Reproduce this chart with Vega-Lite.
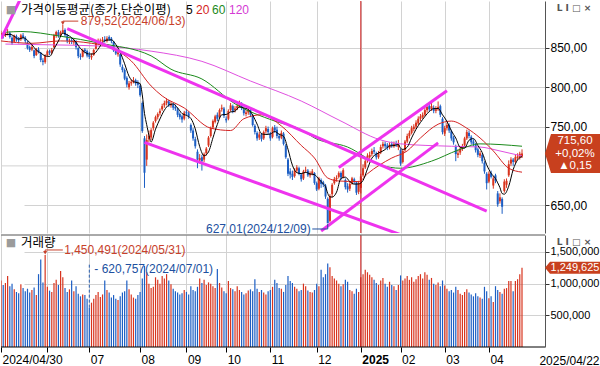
{
"$schema": "https://vega.github.io/schema/vega-lite/v6.json",
"background": "white",
"padding": 0,
"autosize": {"type": "pad"},
"bounds": "flush",
"spacing": 2,
"config": {"view": {"stroke": null}, "font": "Liberation Sans", "text": {"font": "Liberation Sans"}},
"datasets": {
"px": [
{"d":"2024-04-30","o":867,"h":872,"l":864,"c":868.9,"v":1050000},
{"d":"2024-05-02","o":868,"h":870,"l":862,"c":865.2,"v":980000},
{"d":"2024-05-03","o":866,"h":871,"l":864,"c":868.9,"v":1010000},
{"d":"2024-05-07","o":870,"h":874,"l":866,"c":870.2,"v":1120000},
{"d":"2024-05-08","o":869,"h":871,"l":862,"c":864,"v":960000},
{"d":"2024-05-09","o":863,"h":865,"l":854,"c":856.3,"v":1000000},
{"d":"2024-05-10","o":858,"h":867,"l":857,"c":865.6,"v":910000},
{"d":"2024-05-13","o":865,"h":867,"l":858,"c":861.1,"v":870000},
{"d":"2024-05-14","o":862,"h":864,"l":856,"c":859.7,"v":850000},
{"d":"2024-05-16","o":861,"h":868,"l":859,"c":866.1,"v":990000},
{"d":"2024-05-17","o":866,"h":869,"l":861,"c":863.7,"v":930000},
{"d":"2024-05-20","o":863,"h":865,"l":856,"c":858.8,"v":880000},
{"d":"2024-05-21","o":857,"h":859,"l":848,"c":850,"v":920000},
{"d":"2024-05-22","o":851,"h":853,"l":845,"c":847.5,"v":860000},
{"d":"2024-05-23","o":848,"h":854,"l":846,"c":851.2,"v":900000},
{"d":"2024-05-24","o":847,"h":848,"l":837,"c":839.7,"v":940000},
{"d":"2024-05-27","o":841,"h":850,"l":840,"c":848,"v":820000},
{"d":"2024-05-28","o":848,"h":851,"l":843,"c":845.2,"v":1150000},
{"d":"2024-05-29","o":844,"h":845,"l":832,"c":834.6,"v":1380000},
{"d":"2024-05-30","o":834,"h":837,"l":828,"c":832.3,"v":1020000},
{"d":"2024-05-31","o":832,"h":842,"l":830,"c":840,"v":1450491},
{"d":"2024-06-03","o":841,"h":848,"l":839,"c":845.8,"v":950000},
{"d":"2024-06-04","o":846,"h":848,"l":841,"c":843.9,"v":890000},
{"d":"2024-06-05","o":844,"h":850,"l":842,"c":847.5,"v":870000},
{"d":"2024-06-07","o":851,"h":868,"l":850,"c":866.3,"v":1010000},
{"d":"2024-06-10","o":866,"h":872,"l":863,"c":870.4,"v":1060000},
{"d":"2024-06-11","o":870,"h":873,"l":863,"c":865.8,"v":980000},
{"d":"2024-06-12","o":866,"h":872,"l":864,"c":870,"v":1200000},
{"d":"2024-06-13","o":870,"h":879.52,"l":868,"c":872.6,"v":1100000},
{"d":"2024-06-14","o":873,"h":875,"l":864,"c":866.4,"v":930000},
{"d":"2024-06-17","o":866,"h":868,"l":856,"c":859.1,"v":870000},
{"d":"2024-06-18","o":858,"h":862,"l":855,"c":859.2,"v":910000},
{"d":"2024-06-19","o":860,"h":863,"l":855,"c":858.1,"v":1050000},
{"d":"2024-06-20","o":857,"h":862,"l":854,"c":859.1,"v":880000},
{"d":"2024-06-21","o":858,"h":860,"l":848,"c":851,"v":960000},
{"d":"2024-06-24","o":850,"h":851,"l":837,"c":839.7,"v":840000},
{"d":"2024-06-25","o":840,"h":843,"l":835,"c":838.7,"v":800000},
{"d":"2024-06-26","o":839,"h":849,"l":838,"c":847.5,"v":830000},
{"d":"2024-06-27","o":848,"h":850,"l":843,"c":846.1,"v":820000},
{"d":"2024-06-28","o":846,"h":848,"l":838,"c":840.4,"v":760000},
{"d":"2024-07-01","o":841,"h":845,"l":836,"c":838.7,"v":620757},
{"d":"2024-07-02","o":838,"h":843,"l":835,"c":840,"v":700000},
{"d":"2024-07-03","o":841,"h":849,"l":840,"c":847.5,"v":760000},
{"d":"2024-07-04","o":849,"h":859,"l":848,"c":857.5,"v":820000},
{"d":"2024-07-05","o":858,"h":862,"l":855,"c":859,"v":870000},
{"d":"2024-07-08","o":858,"h":862,"l":855,"c":859.5,"v":790000},
{"d":"2024-07-09","o":859,"h":864,"l":857,"c":860.6,"v":830000},
{"d":"2024-07-10","o":861,"h":865,"l":857,"c":859,"v":1050000},
{"d":"2024-07-11","o":859,"h":865,"l":857,"c":862.2,"v":900000},
{"d":"2024-07-12","o":864,"h":866,"l":859,"c":861.3,"v":860000},
{"d":"2024-07-15","o":862,"h":864,"l":856,"c":859,"v":780000},
{"d":"2024-07-16","o":858,"h":859,"l":845,"c":847,"v":820000},
{"d":"2024-07-17","o":846,"h":849,"l":841,"c":843,"v":760000},
{"d":"2024-07-18","o":842,"h":847,"l":839,"c":844.3,"v":740000},
{"d":"2024-07-19","o":842,"h":843,"l":826,"c":829,"v":800000},
{"d":"2024-07-22","o":826,"h":829,"l":819,"c":822,"v":860000},
{"d":"2024-07-23","o":822,"h":824,"l":809,"c":811,"v":880000},
{"d":"2024-07-24","o":812,"h":814,"l":800,"c":803.5,"v":1050000},
{"d":"2024-07-25","o":800,"h":808,"l":797,"c":805,"v":910000},
{"d":"2024-07-26","o":805,"h":810,"l":802,"c":807,"v":830000},
{"d":"2024-07-29","o":807,"h":813,"l":805,"c":809,"v":780000},
{"d":"2024-07-30","o":809,"h":811,"l":802,"c":805,"v":760000},
{"d":"2024-07-31","o":806,"h":809,"l":799,"c":803.2,"v":820000},
{"d":"2024-08-01","o":802,"h":804,"l":788,"c":790,"v":870000},
{"d":"2024-08-02","o":780,"h":782,"l":742,"c":744.3,"v":1080000},
{"d":"2024-08-05","o":735,"h":738,"l":672,"c":691.3,"v":1280000},
{"d":"2024-08-06","o":708,"h":740,"l":700,"c":733,"v":1180000},
{"d":"2024-08-07","o":734,"h":745,"l":730,"c":738,"v":1000000},
{"d":"2024-08-08","o":736,"h":748,"l":733,"c":745.5,"v":930000},
{"d":"2024-08-09","o":748,"h":757,"l":745,"c":755,"v":950000},
{"d":"2024-08-12","o":757,"h":764,"l":755,"c":762,"v":1100000},
{"d":"2024-08-13","o":762,"h":768,"l":759,"c":766,"v":1060000},
{"d":"2024-08-14","o":767,"h":773,"l":764,"c":770,"v":1000000},
{"d":"2024-08-16","o":772,"h":779,"l":770,"c":776,"v":1120000},
{"d":"2024-08-19","o":777,"h":783,"l":774,"c":780,"v":1080000},
{"d":"2024-08-20","o":780,"h":786,"l":777,"c":783,"v":1150000},
{"d":"2024-08-21","o":782,"h":784,"l":775,"c":778,"v":1050000},
{"d":"2024-08-22","o":777,"h":782,"l":774,"c":779,"v":990000},
{"d":"2024-08-23","o":778,"h":780,"l":771,"c":774,"v":920000},
{"d":"2024-08-26","o":775,"h":778,"l":770,"c":773,"v":880000},
{"d":"2024-08-27","o":772,"h":774,"l":762,"c":765,"v":860000},
{"d":"2024-08-28","o":766,"h":768,"l":759,"c":762,"v":830000},
{"d":"2024-08-29","o":763,"h":765,"l":755,"c":759,"v":850000},
{"d":"2024-08-30","o":760,"h":770,"l":758,"c":767.7,"v":900000},
{"d":"2024-09-02","o":769,"h":772,"l":764,"c":767.5,"v":870000},
{"d":"2024-09-03","o":767,"h":769,"l":760,"c":763,"v":830000},
{"d":"2024-09-04","o":752,"h":754,"l":742,"c":745,"v":960000},
{"d":"2024-09-05","o":745,"h":748,"l":732,"c":735,"v":900000},
{"d":"2024-09-06","o":734,"h":737,"l":722,"c":725,"v":880000},
{"d":"2024-09-09","o":718,"h":721,"l":697,"c":708,"v":950000},
{"d":"2024-09-10","o":707,"h":715,"l":703,"c":710,"v":1080000},
{"d":"2024-09-11","o":711,"h":714,"l":694,"c":706,"v":1010000},
{"d":"2024-09-12","o":708,"h":717,"l":705,"c":715,"v":1060000},
{"d":"2024-09-13","o":716,"h":724,"l":713,"c":722,"v":980000},
{"d":"2024-09-19","o":726,"h":738,"l":724,"c":736,"v":1020000},
{"d":"2024-09-20","o":738,"h":750,"l":736,"c":748,"v":1000000},
{"d":"2024-09-23","o":749,"h":759,"l":747,"c":757,"v":960000},
{"d":"2024-09-24","o":756,"h":765,"l":754,"c":763,"v":930000},
{"d":"2024-09-25","o":765,"h":768,"l":757,"c":760,"v":1230000},
{"d":"2024-09-26","o":762,"h":773,"l":760,"c":771,"v":1010000},
{"d":"2024-09-27","o":772,"h":778,"l":769,"c":774,"v":940000},
{"d":"2024-09-30","o":773,"h":775,"l":761,"c":763.9,"v":880000},
{"d":"2024-10-02","o":760,"h":763,"l":755,"c":758,"v":850000},
{"d":"2024-10-04","o":760,"h":772,"l":758,"c":770,"v":1040000},
{"d":"2024-10-07","o":771,"h":780,"l":769,"c":777,"v":930000},
{"d":"2024-10-08","o":776,"h":778,"l":767,"c":770,"v":910000},
{"d":"2024-10-10","o":771,"h":776,"l":768,"c":773,"v":880000},
{"d":"2024-10-11","o":773,"h":779,"l":771,"c":776,"v":960000},
{"d":"2024-10-14","o":776,"h":783,"l":774,"c":779,"v":900000},
{"d":"2024-10-15","o":779,"h":781,"l":771,"c":774,"v":870000},
{"d":"2024-10-16","o":772,"h":774,"l":764,"c":767,"v":830000},
{"d":"2024-10-17","o":766,"h":771,"l":763,"c":768,"v":850000},
{"d":"2024-10-18","o":768,"h":774,"l":765,"c":771,"v":890000},
{"d":"2024-10-21","o":771,"h":773,"l":762,"c":765,"v":910000},
{"d":"2024-10-22","o":764,"h":766,"l":750,"c":752,"v":880000},
{"d":"2024-10-23","o":751,"h":753,"l":740,"c":743,"v":1070000},
{"d":"2024-10-24","o":742,"h":744,"l":732,"c":735,"v":920000},
{"d":"2024-10-25","o":736,"h":743,"l":733,"c":740,"v":870000},
{"d":"2024-10-28","o":740,"h":742,"l":731,"c":734,"v":900000},
{"d":"2024-10-29","o":735,"h":745,"l":733,"c":743,"v":860000},
{"d":"2024-10-30","o":744,"h":751,"l":741,"c":748,"v":830000},
{"d":"2024-10-31","o":747,"h":750,"l":740,"c":743,"v":880000},
{"d":"2024-11-01","o":741,"h":743,"l":732,"c":735,"v":900000},
{"d":"2024-11-04","o":737,"h":750,"l":735,"c":748,"v":950000},
{"d":"2024-11-05","o":749,"h":752,"l":742,"c":745,"v":1060000},
{"d":"2024-11-06","o":746,"h":750,"l":735,"c":738,"v":1010000},
{"d":"2024-11-07","o":738,"h":741,"l":732,"c":735,"v":930000},
{"d":"2024-11-08","o":736,"h":745,"l":734,"c":742,"v":920000},
{"d":"2024-11-11","o":741,"h":743,"l":726,"c":728,"v":870000},
{"d":"2024-11-12","o":726,"h":728,"l":709,"c":711,"v":980000},
{"d":"2024-11-13","o":708,"h":710,"l":687,"c":690,"v":1120000},
{"d":"2024-11-14","o":693,"h":697,"l":684,"c":689,"v":1040000},
{"d":"2024-11-15","o":690,"h":694,"l":682,"c":686,"v":1010000},
{"d":"2024-11-18","o":687,"h":697,"l":685,"c":694,"v":950000},
{"d":"2024-11-19","o":694,"h":701,"l":692,"c":698,"v":920000},
{"d":"2024-11-20","o":697,"h":699,"l":688,"c":690,"v":880000},
{"d":"2024-11-21","o":689,"h":691,"l":680,"c":683,"v":900000},
{"d":"2024-11-22","o":684,"h":695,"l":682,"c":693,"v":1000000},
{"d":"2024-11-25","o":694,"h":699,"l":691,"c":695,"v":960000},
{"d":"2024-11-26","o":694,"h":696,"l":686,"c":688,"v":890000},
{"d":"2024-11-27","o":688,"h":693,"l":685,"c":690,"v":870000},
{"d":"2024-11-28","o":690,"h":696,"l":688,"c":693,"v":860000},
{"d":"2024-11-29","o":691,"h":692,"l":676,"c":678.2,"v":900000},
{"d":"2024-12-02","o":678,"h":680,"l":668,"c":670,"v":1000000},
{"d":"2024-12-03","o":671,"h":686,"l":669,"c":684,"v":960000},
{"d":"2024-12-04","o":682,"h":684,"l":672,"c":677,"v":1220000},
{"d":"2024-12-05","o":679,"h":681,"l":673,"c":676,"v":1100000},
{"d":"2024-12-06","o":675,"h":677,"l":658,"c":661,"v":1150000},
{"d":"2024-12-09","o":658,"h":660,"l":627.01,"c":627.01,"v":1320000},
{"d":"2024-12-10","o":630,"h":664,"l":628,"c":661.6,"v":1260000},
{"d":"2024-12-11","o":664,"h":678,"l":660,"c":675.9,"v":1120000},
{"d":"2024-12-12","o":678,"h":686,"l":676,"c":683.4,"v":1080000},
{"d":"2024-12-13","o":683,"h":688,"l":680,"c":684.9,"v":1050000},
{"d":"2024-12-16","o":686,"h":693,"l":684,"c":690.8,"v":1000000},
{"d":"2024-12-17","o":691,"h":693,"l":682,"c":685.4,"v":960000},
{"d":"2024-12-18","o":686,"h":697,"l":684,"c":694.5,"v":990000},
{"d":"2024-12-19","o":682,"h":684,"l":670,"c":672.9,"v":1060000},
{"d":"2024-12-20","o":674,"h":678,"l":666,"c":670,"v":1030000},
{"d":"2024-12-23","o":671,"h":680,"l":668,"c":677,"v":900000},
{"d":"2024-12-24","o":678,"h":686,"l":676,"c":684.1,"v":880000},
{"d":"2024-12-26","o":683,"h":685,"l":677,"c":680,"v":840000},
{"d":"2024-12-27","o":679,"h":680,"l":663,"c":665.9,"v":920000},
{"d":"2024-12-30","o":667,"h":681,"l":664,"c":678.2,"v":870000},
{"d":"2025-01-02","o":672,"h":690,"l":665,"c":686.6,"v":1100000},
{"d":"2025-01-03","o":688,"h":702,"l":686,"c":697,"v":1150000},
{"d":"2025-01-06","o":698,"h":709,"l":696,"c":706,"v":1220000},
{"d":"2025-01-07","o":707,"h":716,"l":704,"c":713,"v":1180000},
{"d":"2025-01-08","o":711,"h":718,"l":709,"c":714,"v":1140000},
{"d":"2025-01-09","o":715,"h":722,"l":712,"c":719,"v":1100000},
{"d":"2025-01-10","o":720,"h":724,"l":715,"c":718,"v":1060000},
{"d":"2025-01-13","o":716,"h":718,"l":708,"c":711,"v":1010000},
{"d":"2025-01-14","o":711,"h":719,"l":709,"c":716,"v":980000},
{"d":"2025-01-15","o":717,"h":727,"l":715,"c":724,"v":1050000},
{"d":"2025-01-16","o":725,"h":731,"l":722,"c":728,"v":1090000},
{"d":"2025-01-17","o":728,"h":731,"l":722,"c":725,"v":1000000},
{"d":"2025-01-20","o":726,"h":729,"l":720,"c":723,"v":950000},
{"d":"2025-01-21","o":723,"h":730,"l":721,"c":727,"v":1030000},
{"d":"2025-01-22","o":728,"h":731,"l":723,"c":726,"v":980000},
{"d":"2025-01-23","o":725,"h":731,"l":723,"c":728,"v":960000},
{"d":"2025-01-24","o":729,"h":732,"l":724,"c":727,"v":900000},
{"d":"2025-01-31","o":724,"h":733,"l":720,"c":728,"v":980000},
{"d":"2025-02-03","o":720,"h":722,"l":700,"c":703,"v":1130000},
{"d":"2025-02-04","o":705,"h":721,"l":703,"c":719,"v":1050000},
{"d":"2025-02-05","o":720,"h":733,"l":718,"c":731,"v":1080000},
{"d":"2025-02-06","o":731,"h":741,"l":729,"c":738,"v":1120000},
{"d":"2025-02-07","o":738,"h":745,"l":735,"c":742,"v":1060000},
{"d":"2025-02-10","o":742,"h":751,"l":740,"c":748,"v":1100000},
{"d":"2025-02-11","o":747,"h":753,"l":744,"c":750,"v":1030000},
{"d":"2025-02-12","o":750,"h":758,"l":747,"c":755,"v":1070000},
{"d":"2025-02-13","o":754,"h":763,"l":752,"c":760,"v":1120000},
{"d":"2025-02-14","o":760,"h":766,"l":757,"c":763,"v":1150000},
{"d":"2025-02-17","o":762,"h":768,"l":760,"c":765,"v":1080000},
{"d":"2025-02-18","o":765,"h":774,"l":763,"c":771,"v":1180000},
{"d":"2025-02-19","o":771,"h":779,"l":768,"c":775,"v":1140000},
{"d":"2025-02-20","o":776,"h":779,"l":769,"c":772,"v":1060000},
{"d":"2025-02-21","o":772,"h":780,"l":770,"c":776,"v":1090000},
{"d":"2025-02-24","o":774,"h":777,"l":767,"c":770,"v":1000000},
{"d":"2025-02-25","o":770,"h":776,"l":767,"c":772,"v":980000},
{"d":"2025-02-26","o":772,"h":782,"l":770,"c":775,"v":1020000},
{"d":"2025-02-27","o":776,"h":778,"l":762,"c":765,"v":960000},
{"d":"2025-02-28","o":760,"h":762,"l":740,"c":743,"v":1050000},
{"d":"2025-03-04","o":741,"h":751,"l":738,"c":748,"v":970000},
{"d":"2025-03-05","o":748,"h":755,"l":745,"c":752,"v":920000},
{"d":"2025-03-06","o":752,"h":754,"l":742,"c":745,"v":880000},
{"d":"2025-03-07","o":744,"h":746,"l":732,"c":735,"v":900000},
{"d":"2025-03-10","o":736,"h":738,"l":727,"c":730,"v":860000},
{"d":"2025-03-11","o":725,"h":727,"l":706,"c":715,"v":950000},
{"d":"2025-03-12","o":714,"h":721,"l":710,"c":716,"v":900000},
{"d":"2025-03-13","o":717,"h":725,"l":714,"c":722,"v":840000},
{"d":"2025-03-14","o":722,"h":728,"l":719,"c":725,"v":820000},
{"d":"2025-03-17","o":726,"h":737,"l":724,"c":735,"v":870000},
{"d":"2025-03-18","o":735,"h":746,"l":733,"c":743,"v":910000},
{"d":"2025-03-19","o":742,"h":745,"l":735,"c":738,"v":860000},
{"d":"2025-03-20","o":737,"h":739,"l":727,"c":730,"v":830000},
{"d":"2025-03-21","o":731,"h":734,"l":725,"c":728,"v":800000},
{"d":"2025-03-24","o":727,"h":729,"l":717,"c":720,"v":850000},
{"d":"2025-03-25","o":721,"h":723,"l":711,"c":714,"v":800000},
{"d":"2025-03-26","o":713,"h":719,"l":710,"c":716,"v":780000},
{"d":"2025-03-27","o":714,"h":716,"l":703,"c":706,"v":760000},
{"d":"2025-03-28","o":704,"h":706,"l":690,"c":693,"v":950000},
{"d":"2025-03-31","o":690,"h":692,"l":670,"c":678,"v":880000},
{"d":"2025-04-01","o":680,"h":693,"l":678,"c":690,"v":770000},
{"d":"2025-04-02","o":691,"h":694,"l":684,"c":686,"v":800000},
{"d":"2025-04-03","o":675,"h":687,"l":671,"c":684,"v":710000},
{"d":"2025-04-04","o":688,"h":690,"l":678,"c":681,"v":960000},
{"d":"2025-04-07","o":665,"h":668,"l":648,"c":651,"v":900000},
{"d":"2025-04-08","o":655,"h":665,"l":652,"c":660,"v":870000},
{"d":"2025-04-09","o":658,"h":660,"l":639,"c":648,"v":840000},
{"d":"2025-04-10","o":668,"h":683,"l":666,"c":680,"v":920000},
{"d":"2025-04-11","o":676,"h":684,"l":672,"c":681,"v":930000},
{"d":"2025-04-14","o":688,"h":707,"l":686,"c":702,"v":1040000},
{"d":"2025-04-15","o":703,"h":711,"l":700,"c":708,"v":1040000},
{"d":"2025-04-16","o":708,"h":710,"l":700,"c":705,"v":880000},
{"d":"2025-04-17","o":705,"h":714,"l":703,"c":711,"v":1040000},
{"d":"2025-04-18","o":710,"h":716,"l":708,"c":712,"v":1070000},
{"d":"2025-04-21","o":711,"h":718,"l":708,"c":715.45,"v":1150000},
{"d":"2025-04-22","o":712,"h":721,"l":710,"c":715.6,"v":1249625}
],
"ma": [
{"d":"2024-05-03","s":"120","v":855},{"d":"2024-06-05","s":"120","v":854},{"d":"2024-07-08","s":"120","v":852.5},{"d":"2024-08-08","s":"120","v":846},{"d":"2024-09-11","s":"120","v":833},{"d":"2024-10-21","s":"120","v":808},{"d":"2024-11-21","s":"120","v":782.5},{"d":"2024-12-17","s":"120","v":757},{"d":"2025-01-15","s":"120","v":733},{"d":"2025-02-03","s":"120","v":728},{"d":"2025-03-07","s":"120","v":725},{"d":"2025-03-26","s":"120","v":724},{"d":"2025-04-08","s":"120","v":719},{"d":"2025-04-22","s":"120","v":712.6},
{"d":"2024-05-03","s":"60","v":870},{"d":"2024-05-16","s":"60","v":871},{"d":"2024-06-12","s":"60","v":865},{"d":"2024-07-08","s":"60","v":856},{"d":"2024-08-08","s":"60","v":840},{"d":"2024-08-22","s":"60","v":823},{"d":"2024-09-11","s":"60","v":810.6},{"d":"2024-10-10","s":"60","v":779},{"d":"2024-11-05","s":"60","v":757},{"d":"2024-11-21","s":"60","v":746},{"d":"2024-11-29","s":"60","v":735.5},{"d":"2024-12-20","s":"60","v":724},{"d":"2025-01-15","s":"60","v":701},{"d":"2025-02-03","s":"60","v":697},{"d":"2025-02-21","s":"60","v":706},{"d":"2025-03-12","s":"60","v":720},{"d":"2025-03-26","s":"60","v":728},{"d":"2025-04-22","s":"60","v":725},
{"d":"2024-04-30","s":"20","v":859},{"d":"2024-05-23","s":"20","v":856},{"d":"2024-06-12","s":"20","v":859},{"d":"2024-07-02","s":"20","v":856},{"d":"2024-07-15","s":"20","v":850},{"d":"2024-07-26","s":"20","v":833.5},{"d":"2024-08-08","s":"20","v":801.7},{"d":"2024-08-16","s":"20","v":789},{"d":"2024-08-30","s":"20","v":773.7},{"d":"2024-09-20","s":"20","v":748},{"d":"2024-10-07","s":"20","v":745},{"d":"2024-10-16","s":"20","v":760},{"d":"2024-10-28","s":"20","v":765},{"d":"2024-11-08","s":"20","v":750.8},{"d":"2024-11-21","s":"20","v":726},{"d":"2024-11-29","s":"20","v":710},{"d":"2024-12-09","s":"20","v":684.6},{"d":"2024-12-16","s":"20","v":680.8},{"d":"2024-12-30","s":"20","v":680},{"d":"2025-01-07","s":"20","v":690},{"d":"2025-01-22","s":"20","v":710},{"d":"2025-02-06","s":"20","v":719},{"d":"2025-02-14","s":"20","v":735.5},{"d":"2025-02-26","s":"20","v":753},{"d":"2025-03-07","s":"20","v":757},{"d":"2025-03-18","s":"20","v":748},{"d":"2025-03-26","s":"20","v":735.5},{"d":"2025-04-03","s":"20","v":719},{"d":"2025-04-14","s":"20","v":697},{"d":"2025-04-22","s":"20","v":692},
{"d":"2024-04-30","s":"5","v":864},{"d":"2024-05-03","s":"5","v":867},{"d":"2024-05-08","s":"5","v":867.4},{"d":"2024-05-10","s":"5","v":865},{"d":"2024-05-14","s":"5","v":861.3},{"d":"2024-05-17","s":"5","v":863.2},{"d":"2024-05-21","s":"5","v":859.7},{"d":"2024-05-23","s":"5","v":854.2},{"d":"2024-05-27","s":"5","v":847.3},{"d":"2024-05-29","s":"5","v":843.7},{"d":"2024-05-31","s":"5","v":840},{"d":"2024-06-04","s":"5","v":839.3},{"d":"2024-06-07","s":"5","v":848.7},{"d":"2024-06-11","s":"5","v":858.8},{"d":"2024-06-13","s":"5","v":869},{"d":"2024-06-17","s":"5","v":866.8},{"d":"2024-06-19","s":"5","v":863.1},{"d":"2024-06-21","s":"5","v":857.3},{"d":"2024-06-25","s":"5","v":849.3},{"d":"2024-06-27","s":"5","v":844.6},{"d":"2024-07-01","s":"5","v":842.3},{"d":"2024-07-03","s":"5","v":842.5},{"d":"2024-07-05","s":"5","v":848.5},{"d":"2024-07-09","s":"5","v":856.8},{"d":"2024-07-11","s":"5","v":860.1},{"d":"2024-07-15","s":"5","v":860.4},{"d":"2024-07-17","s":"5","v":854.5},{"d":"2024-07-19","s":"5","v":844.5},{"d":"2024-07-23","s":"5","v":829.9},{"d":"2024-07-25","s":"5","v":814.1},{"d":"2024-07-29","s":"5","v":807.1},{"d":"2024-07-31","s":"5","v":805.8},{"d":"2024-08-01","s":"5","v":804.8},{"d":"2024-08-02","s":"5","v":790.3},{"d":"2024-08-05","s":"5","v":766.8},{"d":"2024-08-06","s":"5","v":752.4},{"d":"2024-08-07","s":"5","v":739.3},{"d":"2024-08-08","s":"5","v":730.4},{"d":"2024-08-12","s":"5","v":746.7},{"d":"2024-08-14","s":"5","v":759.7},{"d":"2024-08-19","s":"5","v":770.8},{"d":"2024-08-21","s":"5","v":777.4},{"d":"2024-08-23","s":"5","v":778.8},{"d":"2024-08-27","s":"5","v":773.8},{"d":"2024-08-29","s":"5","v":766.6},{"d":"2024-09-02","s":"5","v":764.2},{"d":"2024-09-04","s":"5","v":760.4},{"d":"2024-09-06","s":"5","v":747.1},{"d":"2024-09-10","s":"5","v":724.6},{"d":"2024-09-12","s":"5","v":712.8},{"d":"2024-09-19","s":"5","v":717.8},{"d":"2024-09-23","s":"5","v":735.6},{"d":"2024-09-25","s":"5","v":752.8},{"d":"2024-09-27","s":"5","v":765},{"d":"2024-10-02","s":"5","v":765.4},{"d":"2024-10-07","s":"5","v":768.6},{"d":"2024-10-10","s":"5","v":769.6},{"d":"2024-10-14","s":"5","v":775},{"d":"2024-10-16","s":"5","v":773.8},{"d":"2024-10-18","s":"5","v":771.8},{"d":"2024-10-22","s":"5","v":764.6},{"d":"2024-10-24","s":"5","v":753.2},{"d":"2024-10-28","s":"5","v":740.8},{"d":"2024-10-30","s":"5","v":740},{"d":"2024-11-01","s":"5","v":740.6},{"d":"2024-11-05","s":"5","v":743.8},{"d":"2024-11-07","s":"5","v":740.2},{"d":"2024-11-11","s":"5","v":737.6},{"d":"2024-11-13","s":"5","v":721.2},{"d":"2024-11-15","s":"5","v":700.8},{"d":"2024-11-19","s":"5","v":691.4},{"d":"2024-11-21","s":"5","v":690.2},{"d":"2024-11-25","s":"5","v":691.8},{"d":"2024-11-27","s":"5","v":689.8},{"d":"2024-11-29","s":"5","v":688.8},{"d":"2024-12-03","s":"5","v":683},{"d":"2024-12-05","s":"5","v":677},{"d":"2024-12-06","s":"5","v":673.6},{"d":"2024-12-09","s":"5","v":665},{"d":"2024-12-10","s":"5","v":660.5},{"d":"2024-12-11","s":"5","v":660.3},{"d":"2024-12-13","s":"5","v":666.6},{"d":"2024-12-17","s":"5","v":684.1},{"d":"2024-12-19","s":"5","v":685.7},{"d":"2024-12-23","s":"5","v":680},{"d":"2024-12-26","s":"5","v":676.8},{"d":"2024-12-30","s":"5","v":677},{"d":"2025-01-03","s":"5","v":681.5},{"d":"2025-01-07","s":"5","v":696.2},{"d":"2025-01-09","s":"5","v":709.8},{"d":"2025-01-13","s":"5","v":715},{"d":"2025-01-15","s":"5","v":717.6},{"d":"2025-01-17","s":"5","v":720.8},{"d":"2025-01-21","s":"5","v":725.4},{"d":"2025-01-23","s":"5","v":725.8},{"d":"2025-01-31","s":"5","v":727.2},{"d":"2025-02-03","s":"5","v":722.4},{"d":"2025-02-04","s":"5","v":721},{"d":"2025-02-06","s":"5","v":723.8},{"d":"2025-02-10","s":"5","v":735.6},{"d":"2025-02-12","s":"5","v":746.6},{"d":"2025-02-14","s":"5","v":755.2},{"d":"2025-02-18","s":"5","v":762.8},{"d":"2025-02-20","s":"5","v":769.2},{"d":"2025-02-24","s":"5","v":772.8},{"d":"2025-02-26","s":"5","v":773},{"d":"2025-02-28","s":"5","v":765},{"d":"2025-03-05","s":"5","v":756.6},{"d":"2025-03-07","s":"5","v":744.6},{"d":"2025-03-11","s":"5","v":735.4},{"d":"2025-03-13","s":"5","v":723.6},{"d":"2025-03-17","s":"5","v":722.6},{"d":"2025-03-19","s":"5","v":732.6},{"d":"2025-03-21","s":"5","v":734.8},{"d":"2025-03-25","s":"5","v":726},{"d":"2025-03-27","s":"5","v":716.8},{"d":"2025-03-31","s":"5","v":701.4},{"d":"2025-04-02","s":"5","v":690.6},{"d":"2025-04-04","s":"5","v":683.8},{"d":"2025-04-07","s":"5","v":678.4},{"d":"2025-04-08","s":"5","v":672.4},{"d":"2025-04-09","s":"5","v":664.8},{"d":"2025-04-10","s":"5","v":664},{"d":"2025-04-14","s":"5","v":674.2},{"d":"2025-04-16","s":"5","v":695.2},{"d":"2025-04-18","s":"5","v":707.6},{"d":"2025-04-22","s":"5","v":711.8}
],
"tl": [
{"d":"2024-06-17","g":"a","v":874.8},{"d":"2025-03-31","g":"a","v":642.4},
{"d":"2024-08-05","g":"b","v":729.9},{"d":"2025-02-03","g":"b","v":612.5},
{"d":"2024-12-04","g":"c","v":617.2},{"d":"2025-02-26","g":"c","v":729.3},
{"d":"2024-12-16","g":"d","v":698},{"d":"2025-03-05","g":"d","v":795.7},
{"d":"2024-04-30","g":"e","v":861.7},{"d":"2024-05-16","g":"e","v":913.6}
]
},
"vconcat": [
{
"width": 544, "height": 232,
"layer": [
{"data": {"values": [{}]}, "mark": {"type": "rule", "color": "#d2d2d2", "strokeWidth": 1},
 "encoding": {"y": {"datum": 700, "type": "quantitative", "scale": {"domain": [614.6, 909.8], "nice": false, "zero": false}}}},
{"data": {"name": "px"}, "mark": {"type": "rule", "strokeWidth": 1, "clip": true},
 "encoding": {
  "x": {"field": "d", "type": "ordinal", "scale": {"type": "point", "range": [0, 521], "padding": 0},
        "axis": {"values": ["2024-04-30","2024-06-03","2024-07-01","2024-08-01","2024-09-02","2024-10-02","2024-11-01","2024-12-02","2025-01-02","2025-02-03","2025-03-04","2025-04-01"], "labels": false, "ticks": false, "domain": false, "grid": true, "gridColor": "#d2d2d2", "title": null}},
  "y": {"field": "l", "type": "quantitative", "scale": {"domain": [614.6, 909.8], "nice": false, "zero": false},
        "axis": {"orient": "right", "values": [650,750,800,850],
                 "labelExpr": "replace(format(datum.value, '.2f'), '.', ',')",
                 "tickSize": 4, "tickColor": "#333333", "domain": true, "domainColor": "#555555", "labelPadding": 1, "labelFontSize": 12, "labelColor": "#000000", "labelOverlap": false,
                 "grid": true, "gridColor": "#d2d2d2", "title": null}},
  "y2": {"field": "h"},
  "color": {"condition": {"test": "datum.c >= datum.o", "value": "#d8341e"}, "value": "#1d5fc4"}}},
{"data": {"name": "px"}, "mark": {"type": "bar", "size": 2, "clip": true},
 "encoding": {
  "x": {"field": "d", "type": "ordinal", "scale": {"type": "point", "range": [0, 521], "padding": 0}},
  "y": {"field": "o", "type": "quantitative", "scale": {"domain": [614.6, 909.8], "nice": false, "zero": false}},
  "y2": {"field": "c"},
  "color": {"condition": {"test": "datum.c >= datum.o", "value": "#d8341e"}, "value": "#1d5fc4"}}},
{"data": {"values": [{"d": "2025-01-02"}]}, "mark": {"type": "rule", "color": "#cc1414", "strokeWidth": 1},
 "encoding": {"x": {"field": "d", "type": "ordinal", "scale": {"type": "point", "range": [0, 521], "padding": 0}}}},
{"data": {"name": "ma"}, "mark": {"type": "line", "strokeWidth": 1, "interpolate": "monotone", "clip": true},
 "encoding": {
  "x": {"field": "d", "type": "ordinal", "scale": {"type": "point", "range": [0, 521], "padding": 0}},
  "y": {"field": "v", "type": "quantitative", "scale": {"domain": [614.6, 909.8], "nice": false, "zero": false}},
  "color": {"field": "s", "type": "nominal", "scale": {"domain": ["5","20","60","120"], "range": ["#000000","#d42323","#1b8a1b","#e050e0"]}, "legend": null}}},
{"data": {"name": "tl"}, "mark": {"type": "line", "strokeWidth": 3, "color": "#ee33ee", "clip": true},
 "encoding": {
  "x": {"field": "d", "type": "ordinal", "scale": {"type": "point", "range": [0, 521], "padding": 0}},
  "y": {"field": "v", "type": "quantitative", "scale": {"domain": [614.6, 909.8], "nice": false, "zero": false}},
  "detail": {"field": "g", "type": "nominal"}}},
{"data": {"values": [{"d":"2024-06-13","d2":"2024-06-24","v":884.2,"v2":884.2},{"d":"2024-06-13","d2":"2024-06-13","v":884.2,"v2":883}]},
 "mark": {"type": "rule", "color": "#c8412b", "strokeWidth": 1},
 "encoding": {
  "x": {"field": "d", "type": "ordinal", "scale": {"type": "point", "range": [0, 521], "padding": 0}}, "x2": {"field": "d2"},
  "y": {"field": "v", "type": "quantitative", "scale": {"domain": [614.6, 909.8], "nice": false, "zero": false}}, "y2": {"field": "v2"}}},
{"data": {"values": [{"d":"2024-06-13","v":881.6}]},
 "mark": {"type": "point", "shape": "triangle-down", "size": 16, "filled": true, "color": "#c8412b", "opacity": 1},
 "encoding": {
  "x": {"field": "d", "type": "ordinal", "scale": {"type": "point", "range": [0, 521], "padding": 0}},
  "y": {"field": "v", "type": "quantitative", "scale": {"domain": [614.6, 909.8], "nice": false, "zero": false}}}},
{"data": {"values": [{"d":"2024-06-13","v":884.2,"t":"879,52(2024/06/13)"}]},
 "mark": {"type": "text", "align": "left", "baseline": "middle", "dx": 18, "fontSize": 12, "color": "#c8412b"},
 "encoding": {
  "x": {"field": "d", "type": "ordinal", "scale": {"type": "point", "range": [0, 521], "padding": 0}},
  "y": {"field": "v", "type": "quantitative", "scale": {"domain": [614.6, 909.8], "nice": false, "zero": false}},
  "text": {"field": "t"}}},
{"data": {"values": [{"d":"2024-11-28","d2":"2024-12-09","v":619.7,"v2":619.7},{"d":"2024-12-09","d2":"2024-12-09","v":619.7,"v2":626}]},
 "mark": {"type": "rule", "color": "#2050a0", "strokeWidth": 1},
 "encoding": {
  "x": {"field": "d", "type": "ordinal", "scale": {"type": "point", "range": [0, 521], "padding": 0}}, "x2": {"field": "d2"},
  "y": {"field": "v", "type": "quantitative", "scale": {"domain": [614.6, 909.8], "nice": false, "zero": false}}, "y2": {"field": "v2"}}},
{"data": {"values": [{"d":"2024-12-09","v":619.7,"t":"627,01(2024/12/09)"}]},
 "mark": {"type": "text", "align": "right", "baseline": "middle", "dx": -17, "fontSize": 12, "color": "#2050a0"},
 "encoding": {
  "x": {"field": "d", "type": "ordinal", "scale": {"type": "point", "range": [0, 521], "padding": 0}},
  "y": {"field": "v", "type": "quantitative", "scale": {"domain": [614.6, 909.8], "nice": false, "zero": false}},
  "text": {"field": "t"}}},
{"data": {"values": [{"d":"2024-04-30","v":898.8,"t":"■"}]},
 "mark": {"type": "text", "align": "center", "baseline": "middle", "dx": 10, "fontSize": 11, "font": "DejaVu Sans", "color": "#9b9b9b"},
 "encoding": {
  "x": {"field": "d", "type": "ordinal", "scale": {"type": "point", "range": [0, 521], "padding": 0}},
  "y": {"field": "v", "type": "quantitative", "scale": {"domain": [614.6, 909.8], "nice": false, "zero": false}},
  "text": {"field": "t"}}},
{"data": {"values": [{"d":"2024-04-30","v":898.8,"t":"가격이동평균(종가,단순이평)"}]},
 "mark": {"type": "text", "align": "left", "baseline": "middle", "dx": 20, "fontSize": 12.5, "font": "Noto Sans CJK KR", "color": "#000000"},
 "encoding": {
  "x": {"field": "d", "type": "ordinal", "scale": {"type": "point", "range": [0, 521], "padding": 0}},
  "y": {"field": "v", "type": "quantitative", "scale": {"domain": [614.6, 909.8], "nice": false, "zero": false}},
  "text": {"field": "t"}}},
{"data": {"values": [{"d":"2024-04-30","v":898.8,"t":"5"}]},
 "mark": {"type": "text", "align": "left", "baseline": "middle", "dx": 185, "fontSize": 12, "color": "#000000"},
 "encoding": {
  "x": {"field": "d", "type": "ordinal", "scale": {"type": "point", "range": [0, 521], "padding": 0}},
  "y": {"field": "v", "type": "quantitative", "scale": {"domain": [614.6, 909.8], "nice": false, "zero": false}},
  "text": {"field": "t"}}},
{"data": {"values": [{"d":"2024-04-30","v":898.8,"t":"20"}]},
 "mark": {"type": "text", "align": "left", "baseline": "middle", "dx": 195, "fontSize": 12, "color": "#d42323"},
 "encoding": {
  "x": {"field": "d", "type": "ordinal", "scale": {"type": "point", "range": [0, 521], "padding": 0}},
  "y": {"field": "v", "type": "quantitative", "scale": {"domain": [614.6, 909.8], "nice": false, "zero": false}},
  "text": {"field": "t"}}},
{"data": {"values": [{"d":"2024-04-30","v":898.8,"t":"60"}]},
 "mark": {"type": "text", "align": "left", "baseline": "middle", "dx": 211, "fontSize": 12, "color": "#1b8a1b"},
 "encoding": {
  "x": {"field": "d", "type": "ordinal", "scale": {"type": "point", "range": [0, 521], "padding": 0}},
  "y": {"field": "v", "type": "quantitative", "scale": {"domain": [614.6, 909.8], "nice": false, "zero": false}},
  "text": {"field": "t"}}},
{"data": {"values": [{"d":"2024-04-30","v":898.8,"t":"120"}]},
 "mark": {"type": "text", "align": "left", "baseline": "middle", "dx": 228, "fontSize": 12, "color": "#d43ad4"},
 "encoding": {
  "x": {"field": "d", "type": "ordinal", "scale": {"type": "point", "range": [0, 521], "padding": 0}},
  "y": {"field": "v", "type": "quantitative", "scale": {"domain": [614.6, 909.8], "nice": false, "zero": false}},
  "text": {"field": "t"}}},
{"data": {"values": [{"d":"2025-04-22","v":901.5,"t":"L I □ ×"}]},
 "mark": {"type": "text", "align": "center", "baseline": "middle", "dx": 52, "fontSize": 9, "font": "DejaVu Sans", "fontWeight": "bold", "color": "#555555"},
 "encoding": {
  "x": {"field": "d", "type": "ordinal", "scale": {"type": "point", "range": [0, 521], "padding": 0}},
  "y": {"field": "v", "type": "quantitative", "scale": {"domain": [614.6, 909.8], "nice": false, "zero": false}},
  "text": {"field": "t"}}},
{"data": {"values": [{"d":"2025-04-22","v":715.6}]},
 "mark": {"type": "point", "shape": "M23,0L29,-19.5L79,-19.5L79,19.5L29,19.5Z", "size": 4, "filled": true, "color": "#c8401e", "opacity": 1, "strokeWidth": 0},
 "encoding": {
  "x": {"field": "d", "type": "ordinal", "scale": {"type": "point", "range": [0, 521], "padding": 0}},
  "y": {"field": "v", "type": "quantitative", "scale": {"domain": [614.6, 909.8], "nice": false, "zero": false}}}},
{"data": {"values": [{"d":"2025-04-22","v":715.6,"t":"715,60\n+0,02%\n▲0,15"}]},
 "mark": {"type": "text", "align": "center", "baseline": "middle", "dx": 53, "dy": -12.5, "fontSize": 11.5, "lineBreak": "\n", "lineHeight": 12.5, "color": "#ffffff"},
 "encoding": {
  "x": {"field": "d", "type": "ordinal", "scale": {"type": "point", "range": [0, 521], "padding": 0}},
  "y": {"field": "v", "type": "quantitative", "scale": {"domain": [614.6, 909.8], "nice": false, "zero": false}},
  "text": {"field": "t"}}}
]
},
{
"width": 544, "height": 112,
"layer": [
{"data": {"name": "px"}, "mark": {"type": "bar", "size": 1.2, "clip": true},
 "encoding": {
  "x": {"field": "d", "type": "ordinal", "scale": {"type": "point", "range": [0, 521], "padding": 0},
        "axis": {"values": ["2024-04-30","2024-06-03","2024-07-01","2024-08-01","2024-09-02","2024-10-02","2024-11-01","2024-12-02","2025-01-02","2025-02-03","2025-03-04","2025-04-01"],
                 "labelExpr": "datum.value == '2024-04-30' ? '2024/04/30' : datum.value == '2024-06-03' ? '' : datum.value == '2025-01-02' ? '2025' : substring(datum.value, 5, 7)",
                 "labelAngle": 0, "labelAlign": "left", "labelBaseline": "top", "labelOffset": 1, "labelPadding": 2, "labelFontSize": 12, "labelColor": "#000000", "labelOverlap": false,
                 "labelFontWeight": {"condition": {"test": "datum.value == '2025-01-02'", "value": "bold"}, "value": "normal"},
                 "tickSize": 5, "tickColor": "#000000", "domain": false, "grid": true, "gridColor": "#d2d2d2",
                 "title": "2025/04/22", "titleX": 598, "titleY": 17, "titleAlign": "right", "titleBaseline": "alphabetic", "titleAngle": 0, "titleFontSize": 12, "titleFontWeight": "normal", "titleColor": "#000000"}},
  "y": {"field": "v", "type": "quantitative", "scale": {"domain": [0, 1768000], "nice": false, "zero": true},
        "axis": {"orient": "right", "values": [500000,1000000,1500000],
                 "labelExpr": "format(datum.value, ',')",
                 "tickSize": 4, "tickColor": "#333333", "domain": true, "domainColor": "#555555", "labelPadding": 1, "labelFontSize": 11, "labelColor": "#000000", "labelOverlap": false,
                 "grid": true, "gridColor": "#d2d2d2", "title": null}},
  "color": {"condition": {"test": "datum.c >= datum.o", "value": "#d8341e"}, "value": "#1d5fc4"}}},
{"data": {"values": [{"d": "2025-01-02"}]}, "mark": {"type": "rule", "color": "#cc1414", "strokeWidth": 1},
 "encoding": {"x": {"field": "d", "type": "ordinal", "scale": {"type": "point", "range": [0, 521], "padding": 0}}}},
{"data": {"values": [{}]}, "mark": {"type": "rule", "color": "#555555", "strokeWidth": 1},
 "encoding": {"y": {"datum": 1768000, "type": "quantitative", "scale": {"domain": [0, 1768000], "nice": false, "zero": true}}}},
{"data": {"values": [{}]}, "mark": {"type": "rule", "color": "#000000", "strokeWidth": 1},
 "encoding": {"y": {"datum": 0, "type": "quantitative", "scale": {"domain": [0, 1768000], "nice": false, "zero": true}}}},
{"data": {"values": [{"d":"2024-05-31","d2":"2024-06-13","v":1531700,"v2":1531700},{"d":"2024-05-31","d2":"2024-05-31","v":1531700,"v2":1495000}]},
 "mark": {"type": "rule", "color": "#c8412b", "strokeWidth": 1},
 "encoding": {
  "x": {"field": "d", "type": "ordinal", "scale": {"type": "point", "range": [0, 521], "padding": 0}}, "x2": {"field": "d2"},
  "y": {"field": "v", "type": "quantitative", "scale": {"domain": [0, 1768000], "nice": false, "zero": true}}, "y2": {"field": "v2"}}},
{"data": {"values": [{"d":"2024-05-31","v":1488000}]},
 "mark": {"type": "point", "shape": "triangle-down", "size": 16, "filled": true, "color": "#c8412b", "opacity": 1},
 "encoding": {
  "x": {"field": "d", "type": "ordinal", "scale": {"type": "point", "range": [0, 521], "padding": 0}},
  "y": {"field": "v", "type": "quantitative", "scale": {"domain": [0, 1768000], "nice": false, "zero": true}}}},
{"data": {"values": [{"d":"2024-05-31","v":1531700,"t":"1,450,491(2024/05/31)"}]},
 "mark": {"type": "text", "align": "left", "baseline": "middle", "dx": 19, "fontSize": 12, "color": "#c8412b"},
 "encoding": {
  "x": {"field": "d", "type": "ordinal", "scale": {"type": "point", "range": [0, 521], "padding": 0}},
  "y": {"field": "v", "type": "quantitative", "scale": {"domain": [0, 1768000], "nice": false, "zero": true}},
  "text": {"field": "t"}}},
{"data": {"values": [{"d":"2024-07-01","v":620757,"v2":1326000}]},
 "mark": {"type": "rule", "color": "#2a5fb0", "strokeWidth": 1, "strokeDash": [3, 2]},
 "encoding": {
  "x": {"field": "d", "type": "ordinal", "scale": {"type": "point", "range": [0, 521], "padding": 0}},
  "y": {"field": "v", "type": "quantitative", "scale": {"domain": [0, 1768000], "nice": false, "zero": true}}, "y2": {"field": "v2"}}},
{"data": {"values": [{"d":"2024-07-01","v":1231600,"t":"- 620,757(2024/07/01)"}]},
 "mark": {"type": "text", "align": "left", "baseline": "middle", "dx": 5, "fontSize": 12, "color": "#2050a0"},
 "encoding": {
  "x": {"field": "d", "type": "ordinal", "scale": {"type": "point", "range": [0, 521], "padding": 0}},
  "y": {"field": "v", "type": "quantitative", "scale": {"domain": [0, 1768000], "nice": false, "zero": true}},
  "text": {"field": "t"}}},
{"data": {"values": [{"d":"2024-04-30","v":1642000,"t":"■"}]},
 "mark": {"type": "text", "align": "center", "baseline": "middle", "dx": 10, "fontSize": 11, "font": "DejaVu Sans", "color": "#9b9b9b"},
 "encoding": {
  "x": {"field": "d", "type": "ordinal", "scale": {"type": "point", "range": [0, 521], "padding": 0}},
  "y": {"field": "v", "type": "quantitative", "scale": {"domain": [0, 1768000], "nice": false, "zero": true}},
  "text": {"field": "t"}}},
{"data": {"values": [{"d":"2024-04-30","v":1642000,"t":"거래량"}]},
 "mark": {"type": "text", "align": "left", "baseline": "middle", "dx": 20, "fontSize": 12.5, "font": "Noto Sans CJK KR", "color": "#000000"},
 "encoding": {
  "x": {"field": "d", "type": "ordinal", "scale": {"type": "point", "range": [0, 521], "padding": 0}},
  "y": {"field": "v", "type": "quantitative", "scale": {"domain": [0, 1768000], "nice": false, "zero": true}},
  "text": {"field": "t"}}},
{"data": {"values": [{"d":"2025-04-22","v":1665000,"t":"L I □ ×"}]},
 "mark": {"type": "text", "align": "center", "baseline": "middle", "dx": 52, "fontSize": 9, "font": "DejaVu Sans", "fontWeight": "bold", "color": "#555555"},
 "encoding": {
  "x": {"field": "d", "type": "ordinal", "scale": {"type": "point", "range": [0, 521], "padding": 0}},
  "y": {"field": "v", "type": "quantitative", "scale": {"domain": [0, 1768000], "nice": false, "zero": true}},
  "text": {"field": "t"}}},
{"data": {"values": [{"d":"2025-04-22","v":1249625}]},
 "mark": {"type": "point", "shape": "M23,0L28,-6L79,-6L79,6L28,6Z", "size": 4, "filled": true, "color": "#c8401e", "opacity": 1, "strokeWidth": 0},
 "encoding": {
  "x": {"field": "d", "type": "ordinal", "scale": {"type": "point", "range": [0, 521], "padding": 0}},
  "y": {"field": "v", "type": "quantitative", "scale": {"domain": [0, 1768000], "nice": false, "zero": true}}}},
{"data": {"values": [{"d":"2025-04-22","v":1249625,"t":"1,249,625"}]},
 "mark": {"type": "text", "align": "center", "baseline": "middle", "dx": 53, "fontSize": 11, "color": "#ffffff"},
 "encoding": {
  "x": {"field": "d", "type": "ordinal", "scale": {"type": "point", "range": [0, 521], "padding": 0}},
  "y": {"field": "v", "type": "quantitative", "scale": {"domain": [0, 1768000], "nice": false, "zero": true}},
  "text": {"field": "t"}}}
]
}
]
}
